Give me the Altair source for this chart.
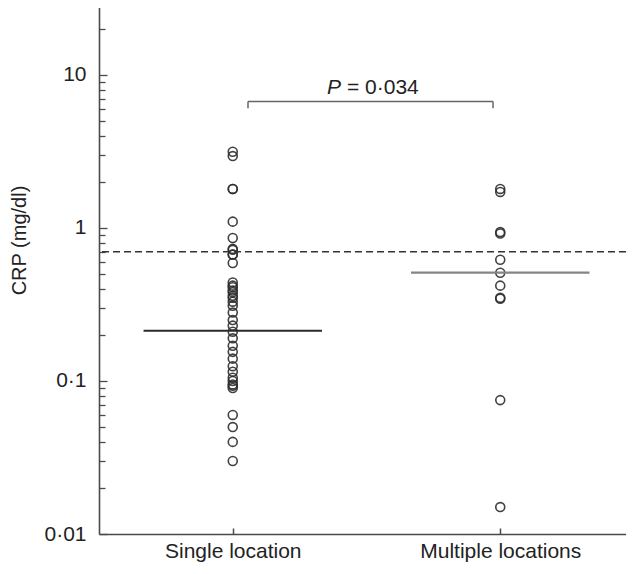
import altair as alt
import pandas as pd

# ---------------- data ----------------
categories = ["Single location", "Multiple locations"]
category_pos = [1, 3]

single_crp = [3.15, 2.95, 1.8, 1.8, 1.1, 0.86, 0.73, 0.72, 0.67, 0.67, 0.59,
              0.44, 0.42, 0.41, 0.39, 0.38, 0.36, 0.35, 0.33, 0.31, 0.28,
              0.25, 0.23, 0.21, 0.19, 0.17, 0.155, 0.14, 0.125, 0.115, 0.105,
              0.1, 0.095, 0.093, 0.09, 0.06, 0.05, 0.04, 0.03]
multiple_crp = [1.8, 1.72, 0.94, 0.92, 0.62, 0.51, 0.42, 0.35, 0.345, 0.075, 0.015]

medians = [0.213, 0.51]
median_colors = ["#2a2a2a", "#858585"]
median_half_width = 0.667

threshold = 0.7

bracket_x = [1.114, 2.946]
bracket_y = 6.7
bracket_end_y = 6.05
p_label_x = 1.809
p_label_y = 7.55
p_label_italic = "P"
p_label_rest = "= 0\u00b7034"

y_major = [0.01, 0.1, 1, 10]
y_major_labels = ["0\u00b701", "0\u00b71", "1", "10"]
y_all_ticks = [0.01, 0.02, 0.03, 0.04, 0.05, 0.06, 0.07, 0.08, 0.09,
               0.1, 0.2, 0.3, 0.4, 0.5, 0.6, 0.7, 0.8, 0.9,
               1, 2, 3, 4, 5, 6, 7, 8, 9,
               10, 20, 30]

# ---------------- layout ----------------
W = 527
H = 534
UNIT = 133.75  # px per x unit in the reference
FONT = "Liberation Sans"
AX = "#4a4a4a"

x_scale = alt.Scale(domain=[0, W / UNIT], nice=False, zero=False)
y_scale = alt.Scale(type="log", domain=[0.01, 30.9], nice=False)

pts = pd.DataFrame({
    "pos": [category_pos[0]] * len(single_crp) + [category_pos[1]] * len(multiple_crp),
    "crp": single_crp + multiple_crp,
})

x_label_expr = "datum.value == %d ? '%s' : '%s'" % (category_pos[0], categories[0], categories[1])
y_label_expr = " : ".join(
    ["datum.value == %s ? '%s'" % (v, l) for v, l in zip(y_major, y_major_labels)]
) + " : ''"

points = alt.Chart(pts).mark_point(
    shape="circle", size=80, filled=False, color="#2e2e2e", strokeWidth=1.6, opacity=0.9
).encode(
    x=alt.X("pos:Q", scale=x_scale, axis=alt.Axis(
        values=category_pos, labelExpr=x_label_expr, title=None, ticks=False, grid=False,
        domainColor=AX, domainWidth=1.6, labelFont=FONT, labelFontSize=21,
        labelColor="#222", labelPadding=6)),
    y=alt.Y("crp:Q", scale=y_scale, axis=alt.Axis(
        values=y_major, labelExpr=y_label_expr, title="CRP (mg/dl)", ticks=False, grid=False,
        domainColor=AX, domainWidth=1.6, labelFont=FONT, labelFontSize=21,
        labelColor="#222", labelPadding=13, titleFont=FONT, titleFontSize=20,
        titleFontWeight="normal", titleColor="#222", titleX=-74, titleY=240,
        titleBaseline="alphabetic", titleAlign="center", titleAngle=270)),
)

med_df = pd.DataFrame({
    "x1": [p - median_half_width for p in category_pos],
    "x2": [p + median_half_width for p in category_pos],
    "y": medians,
    "c": median_colors,
})

major_test = "indexof([0.01, 0.1, 1, 10], datum.value) >= 0"
meds = alt.Chart(med_df).mark_rule(strokeWidth=2.2).encode(
    x=alt.X("x1:Q", scale=x_scale, axis=alt.Axis(
        orient="top", offset=-H, values=category_pos, labels=False, domain=False,
        tickSize=6, tickColor=AX, tickWidth=1.5, title=None, grid=False)),
    x2="x2:Q",
    y=alt.Y("y:Q", scale=y_scale, axis=alt.Axis(
        orient="right", offset=-W, values=y_all_ticks, labels=False, domain=False,
        tickSize={"condition": {"test": major_test, "value": 8}, "value": 6},
        tickColor=AX, tickWidth=1.3, title=None, grid=False)),
    color=alt.Color("c:N", scale=None),
)

dashed = alt.Chart(pd.DataFrame({"y": [threshold]})).mark_rule(
    strokeDash=[7, 4], strokeWidth=1.6, color="#333"
).encode(y=alt.Y("y:Q", scale=y_scale, axis=None))

br_h = alt.Chart(pd.DataFrame({"x1": [bracket_x[0]], "x2": [bracket_x[1]], "y": [bracket_y]})).mark_rule(
    strokeWidth=1.5, color="#666"
).encode(
    x=alt.X("x1:Q", scale=x_scale, axis=None), x2="x2:Q",
    y=alt.Y("y:Q", scale=y_scale, axis=None),
)
br_v = alt.Chart(pd.DataFrame({"x": bracket_x, "y1": [bracket_y] * 2, "y2": [bracket_end_y] * 2})).mark_rule(
    strokeWidth=1.5, color="#666"
).encode(
    x=alt.X("x:Q", scale=x_scale, axis=None),
    y=alt.Y("y1:Q", scale=y_scale, axis=None), y2="y2:Q",
)

lab_df = pd.DataFrame({"x": [p_label_x], "y": [p_label_y], "a": [p_label_italic], "b": [p_label_rest]})
lab_p = alt.Chart(lab_df).mark_text(
    align="right", baseline="alphabetic", font=FONT, fontSize=21, fontStyle="italic", color="#222"
).encode(x=alt.X("x:Q", scale=x_scale, axis=None), y=alt.Y("y:Q", scale=y_scale, axis=None), text="a:N")
lab_rest = alt.Chart(lab_df).mark_text(
    align="left", baseline="alphabetic", font=FONT, fontSize=21, color="#222", dx=6
).encode(x=alt.X("x:Q", scale=x_scale, axis=None), y=alt.Y("y:Q", scale=y_scale, axis=None), text="b:N")

chart = alt.layer(points, meds, dashed, br_h, br_v, lab_p, lab_rest).resolve_axis(
    x="independent", y="independent"
).properties(
    width=W, height=H,
    autosize=alt.AutoSizeParams(type="none"),
    padding={"left": 91, "top": -8, "right": 0, "bottom": 32},
).configure_view(stroke=None).configure(background="white")

chart.save("out.html", embed_options={"renderer": "svg", "actions": False})
